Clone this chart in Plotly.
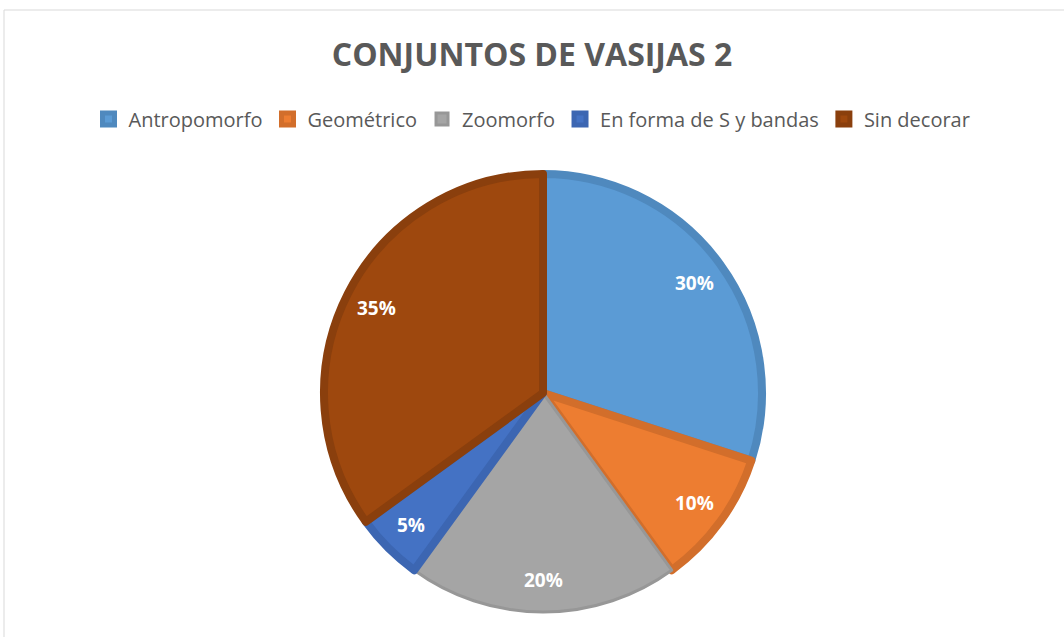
import math
import plotly.graph_objects as go

# Vessel groups and their share of the assemblage (percent)
categories = ["Antropomorfo", "Geométrico", "Zoomorfo", "En forma de S y bandas", "Sin decorar"]
shares = [30, 10, 20, 5, 35]

fill_colors = ["#5B9BD5", "#ED7D31", "#A5A5A5", "#4472C4", "#9E480E"]
edge_colors = ["#4F89BE", "#D26E2B", "#979797", "#3C66B2", "#8A3F0D"]
edge_widths = [8, 8, 3, 8, 8]

W, H = 1064, 637
cx, cy, r = 543, 393, 219  # pie centre and radius in pixels
label_radius = 0.84        # labels sit near the outer rim, as a fraction of the radius

fig = go.Figure(
    go.Pie(
        labels=categories,
        values=shares,
        sort=False,
        direction="clockwise",
        rotation=0,
        marker=dict(colors=fill_colors, line=dict(color=edge_colors, width=edge_widths)),
        textinfo="none",
        hoverinfo="label+percent",
        domain=dict(x=[(cx - r) / W, (cx + r) / W], y=[(H - cy - r) / H, (H - cy + r) / H]),
    )
)

# Percentage labels, placed along each slice's bisector
total = sum(shares)
annotations = []
cum = 0
for share in shares:
    mid = (cum + share / 2) / total * 2 * math.pi
    cum += share
    px = cx + label_radius * (r + 4) * math.sin(mid)
    py = cy - label_radius * (r + 4) * math.cos(mid)
    annotations.append(
        dict(
            x=px / W,
            y=1 - py / H,
            xref="paper",
            yref="paper",
            text=f"<b>{share / total:.0%}</b>",
            showarrow=False,
            xanchor="center",
            yanchor="middle",
            font=dict(family="Open Sans", size=19, color="white"),
        )
    )

fig.update_layout(
    width=W,
    height=H,
    margin=dict(l=0, r=0, t=0, b=0),
    paper_bgcolor="white",
    plot_bgcolor="white",
    title=dict(
        text="<b>CONJUNTOS DE VASIJAS 2</b>",
        x=0.5,
        xanchor="center",
        y=1 - 55 / H,
        yanchor="middle",
        font=dict(family="Open Sans", size=32, color="#595959"),
    ),
    legend=dict(
        orientation="h",
        x=0.5,
        xanchor="center",
        y=1 - 119 / H,
        yanchor="middle",
        font=dict(family="Open Sans", size=20, color="#595959"),
        itemwidth=30,
        traceorder="normal",
    ),
    annotations=annotations,
    shapes=[
        dict(
            type="rect",
            xref="paper",
            yref="paper",
            x0=4 / W,
            x1=1.05,
            y0=-0.05,
            y1=1 - 10 / H,
            line=dict(color="#D9D9D9", width=1),
            fillcolor="rgba(0,0,0,0)",
            layer="below",
        )
    ],
)

fig.write_html("out.html")
